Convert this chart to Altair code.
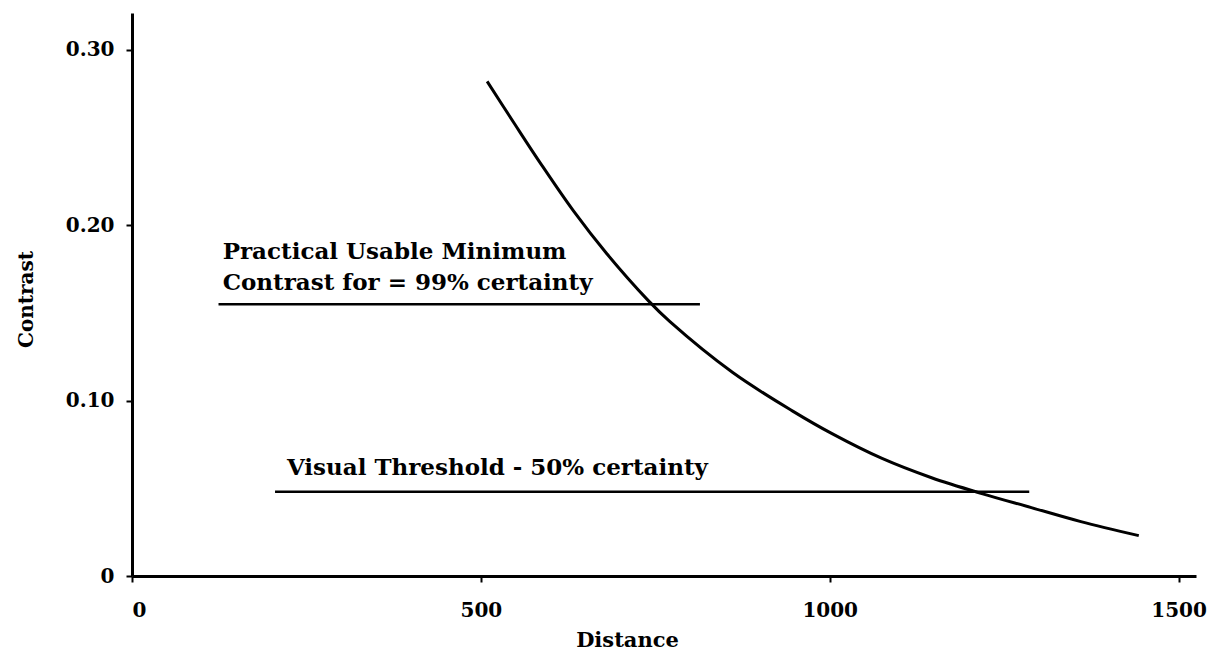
import altair as alt
import pandas as pd

# Curve
distance = [509, 548, 586, 633, 680, 740, 771, 861, 947, 1004, 1075, 1146, 1218, 1289, 1360, 1443]
contrast = [0.282, 0.258, 0.235, 0.208, 0.184, 0.157, 0.145, 0.116, 0.094, 0.081, 0.067,
            0.056, 0.047, 0.039, 0.031, 0.023]

# Horizontal reference lines
ref_names = ["Practical Usable Minimum", "Visual Threshold"]
ref_start = [124, 205]
ref_end = [814, 1286]
ref_level = [0.155, 0.048]

# Annotation texts (data coordinates)
note_text = ["Practical Usable Minimum", "Contrast for = 99% certainty",
             "Visual Threshold - 50% certainty"]
note_x = [130, 130, 222]
note_y = [0.185, 0.167, 0.0616]

x_ticks = [0, 500, 1000, 1500]
y_ticks = [0, 0.10, 0.20, 0.30]

FONT = "DejaVu Serif"

curve_df = pd.DataFrame({"Distance": distance, "Contrast": contrast})
ref_df = pd.DataFrame({"name": ref_names, "x1": ref_start, "x2": ref_end, "y": ref_level})
note_df = pd.DataFrame({"text": note_text, "x": note_x, "y": note_y})

xscale = alt.Scale(domain=[0, 1525], nice=False, zero=False)
yscale = alt.Scale(domain=[0, 0.321], nice=False, zero=False)

xaxis = alt.Axis(values=x_ticks, format="d", title="Distance", grid=False,
                 domainColor="black", domainWidth=3, tickColor="black", tickWidth=2,
                 tickSize=6, labelPadding=18, labelFont=FONT, labelFontSize=20,
                 labelFontWeight="bold", labelColor="black", titleFont=FONT,
                 titleFontSize=21, titleFontWeight="bold", titleColor="black",
                 titleX=495, titleY=64, titleBaseline="middle", titleAlign="center")
yaxis = alt.Axis(values=y_ticks, title="Contrast", grid=False,
                 labelExpr="datum.value == 0 ? '0' : format(datum.value, '.2f')",
                 domainColor="black", domainWidth=3, tickColor="black", tickWidth=2,
                 tickSize=6, labelPadding=12, labelFont=FONT, labelFontSize=20,
                 labelFontWeight="bold", labelColor="black", titleFont=FONT,
                 titleFontSize=20, titleFontWeight="bold", titleColor="black",
                 titleX=-106, titleY=286, titleAngle=270, titleBaseline="middle",
                 titleAlign="center")

curve = alt.Chart(curve_df).mark_line(color="black", strokeWidth=3,
                                      interpolate="catmull-rom").encode(
    x=alt.X("Distance:Q", scale=xscale, axis=xaxis),
    y=alt.Y("Contrast:Q", scale=yscale, axis=yaxis),
)

refs = alt.Chart(ref_df).mark_rule(color="black", strokeWidth=2.5).encode(
    x=alt.X("x1:Q", scale=xscale),
    x2="x2:Q",
    y=alt.Y("y:Q", scale=yscale),
)

notes = alt.Chart(note_df).mark_text(
    align="left", baseline="middle", font=FONT, fontSize=23, fontWeight="bold", color="black"
).encode(
    x=alt.X("x:Q", scale=xscale),
    y=alt.Y("y:Q", scale=yscale),
    text="text:N",
)

chart = alt.layer(curve, refs, notes).properties(
    width=1064,
    height=563,
    padding={"left": 124, "top": 5, "right": 14, "bottom": 75},
    autosize=alt.AutoSizeParams(type="none"),
    background="white",
).configure_view(stroke=None)

chart.save("out.html", embed_options={"renderer": "svg", "actions": False})
